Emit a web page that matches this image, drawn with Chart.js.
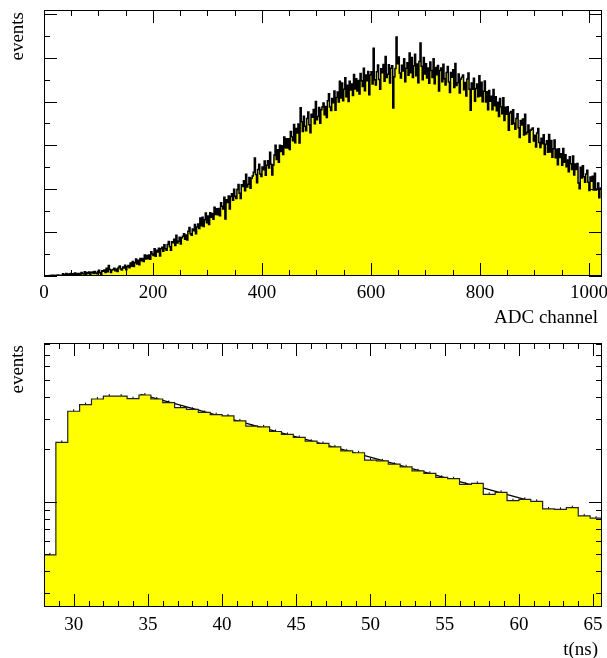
<!DOCTYPE html>
<html>
<head>
<meta charset="utf-8">
<script src="https://cdn.jsdelivr.net/npm/chart.js@4.4.1/dist/chart.umd.min.js"></script>
<style>
  html, body { margin: 0; padding: 0; background: #fff; }
  canvas { display: block; }
</style>
</head>
<body>
<canvas id="adc" width="607" height="330"></canvas>
<canvas id="tof" width="607" height="328"></canvas>
<script>
// ADC spectrum, 2 channels per bin, 0..1024
const adcBinWidth = 2;
const adcCounts = [
  0,0,1,0,0,2,0,3,1,4,2,1,5,2,4,3,
  3,10,2,7,12,4,9,2,11,7,10,5,14,8,12,7,
  12,4,16,12,9,19,6,16,12,18,5,16,18,11,21,14,
  10,21,26,15,8,24,22,28,16,35,19,48,30,16,28,30,
  36,24,32,21,39,46,32,28,41,37,49,29,42,48,38,60,
  45,66,44,61,78,55,72,52,80,70,80,66,96,78,94,79,
  96,77,111,101,94,125,91,118,110,127,92,125,132,114,143,125,
  118,144,158,134,118,157,152,169,140,187,151,159,178,147,176,182,
  194,168,188,165,205,223,194,187,216,208,236,194,225,239,218,266,
  230,269,227,258,289,244,275,236,290,270,287,260,315,282,309,281,
  310,276,336,320,307,361,262,350,337,367,307,365,377,347,398,366,
  355,397,420,380,355,418,410,437,391,467,408,421,452,402,448,459,
  476,541,465,428,488,513,468,456,500,487,528,462,508,529,495,568,
  513,463,509,555,600,534,579,522,600,571,597,557,638,588,629,587,
  629,580,663,639,620,695,611,676,656,697,610,772,707,663,733,687,
  666,722,752,694,657,742,728,764,698,800,717,732,773,701,763,775,
  794,739,777,727,804,836,775,759,814,795,848,760,819,844,798,893,
  816,885,804,856,909,822,875,800,893,853,881,828,924,858,905,849,
  897,835,929,896,869,953,850,922,895,938,831,922,937,881,1045,900,
  876,937,968,901,856,950,932,970,893,1007,910,925,969,885,953,964,
  770,914,952,1096,974,1005,931,908,967,940,996,891,953,978,921,1023,
  932,1002,910,964,1017,918,972,886,984,1069,962,900,1002,926,973,908,
  954,884,981,942,910,996,882,956,923,966,849,942,954,891,971,905,
  876,933,961,890,842,933,911,946,865,975,874,886,927,839,903,911,
  922,854,888,826,903,931,856,760,885,856,907,802,860,881,822,919,
  826,889,799,847,894,798,845,762,851,802,824,763,855,781,822,758,
  797,732,814,776,744,817,713,774,742,776,669,748,755,696,763,701,
  673,722,744,680,635,713,692,720,647,742,651,659,693,614,668,673,
  679,619,646,592,656,677,612,589,632,606,648,557,604,620,568,649,
  569,622,545,584,624,542,581,510,584,543,561,508,585,522,556,501,
  532,478,547,515,489,550,463,514,488,516,427,400,499,450,506,455,
  430,468,485,430,392,454,435,457,394,471,394,399,426,359,402,404
];
const adcTicks = [0, 200, 400, 600, 800, 1000];

// time spectrum, 0.8 ns bins from 28 ns
const tofStart = 28;
const tofBinWidth = 0.8;
const tofCounts = [498, 2194, 3311, 3615, 3893, 4046, 4046, 3910, 4103, 3893, 3715, 3477,
  3398, 3258, 3170, 3112, 2915, 2718, 2694, 2535, 2437, 2343, 2232, 2164, 2070, 1963,
  1914, 1738, 1722, 1648, 1591, 1509, 1459, 1384, 1359, 1262, 1279, 1106, 1136, 1017,
  1036, 1009, 912, 908, 928, 832, 807];
const tofTicks = [30, 35, 40, 45, 50, 55, 60, 65];

// exponential fit
const fitT = [34.5, 37, 40, 43, 46, 49, 52, 55, 58, 60.7];
const fitValues = [4142, 3621, 3083, 2624, 2236, 1905, 1621, 1380, 1175, 1017];

function range(a, b, step) {
  const out = [];
  for (let v = a; v <= b + 1e-9; v += step) out.push(Math.round(v * 1000) / 1000);
  return out;
}

const FONT = '19px "Liberation Serif", "DejaVu Serif", serif';

// ROOT-style frame: ticks inside on all four sides, labels and titles drawn by hand
const frameTicks = {
  id: 'frameTicks',
  afterDatasetsDraw(chart, args, o) {
    const ctx = chart.ctx;
    const a = chart.chartArea;
    const xs = chart.scales.x, ys = chart.scales.y;
    ctx.save();
    ctx.strokeStyle = '#000';
    ctx.lineWidth = 1;
    ctx.beginPath();
    const xTick = (v, len) => {
      const p = Math.round(xs.getPixelForValue(v)) + 0.5;
      ctx.moveTo(p, a.bottom); ctx.lineTo(p, a.bottom - len);
      ctx.moveTo(p, a.top); ctx.lineTo(p, a.top + len);
    };
    const yTick = (v, len) => {
      const p = Math.round(ys.getPixelForValue(v)) + 0.5;
      ctx.moveTo(a.left, p); ctx.lineTo(a.left + len, p);
      ctx.moveTo(a.right, p); ctx.lineTo(a.right - len, p);
    };
    o.xMinor.forEach(v => xTick(v, 6));
    o.xMajor.forEach(v => xTick(v, 13));
    o.yMinor.forEach(v => yTick(v, 6));
    o.yMajor.forEach(v => yTick(v, 13));
    ctx.stroke();
    ctx.strokeRect(a.left + 0.5, a.top + 0.5, a.right - a.left - 1, a.bottom - a.top - 1);

    ctx.fillStyle = '#000';
    ctx.font = FONT;
    ctx.textAlign = 'center';
    ctx.textBaseline = 'middle';
    o.xMajor.forEach(v => ctx.fillText(String(v), xs.getPixelForValue(v), a.bottom + o.labelGap));
    ctx.textAlign = 'right';
    ctx.fillText(o.xTitle, a.right - 4, a.bottom + o.titleGap);

    ctx.translate(18, a.top + 2);
    ctx.rotate(-Math.PI / 2);
    ctx.textAlign = 'right';
    ctx.fillText('events', 0, 0);
    ctx.restore();
  }
};

// each bin value holds from its lower edge to the next edge
const adcPoints = adcCounts.map((c, i) => ({ x: i * adcBinWidth, y: c }));
adcPoints.push({ x: adcCounts.length * adcBinWidth, y: adcCounts[adcCounts.length - 1] });

new Chart(document.getElementById('adc'), {
  type: 'line',
  data: {
    datasets: [{
      data: adcPoints,
      stepped: 'before',
      borderColor: '#000',
      borderWidth: 1.5,
      backgroundColor: '#ffff00',
      fill: 'origin',
      pointRadius: 0
    }]
  },
  options: {
    responsive: false,
    animation: false,
    layout: { padding: { left: 44, right: 5, top: 10, bottom: 54 } },
    scales: {
      x: { type: 'linear', min: 0, max: 1024, display: false },
      y: { type: 'linear', min: 0, max: 1220, display: false }
    },
    plugins: {
      legend: { display: false },
      tooltip: { enabled: false },
      frameTicks: {
        xMajor: adcTicks,
        xMinor: range(0, 1000, 50),
        yMajor: range(0, 1200, 200),
        yMinor: range(100, 1100, 200),
        xTitle: 'ADC channel',
        labelGap: 17,
        titleGap: 42
      }
    }
  },
  plugins: [frameTicks]
});

const tofPoints = tofCounts.map((c, i) => ({ x: tofStart + i * tofBinWidth, y: c }));
tofPoints.push({ x: tofStart + tofCounts.length * tofBinWidth, y: tofCounts[tofCounts.length - 1] });
const tofCenters = tofCounts.map((c, i) => ({ x: tofStart + (i + 0.5) * tofBinWidth, y: c }));
const fitPoints = fitT.map((t, i) => ({ x: t, y: fitValues[i] }));

new Chart(document.getElementById('tof'), {
  type: 'line',
  data: {
    datasets: [{
      data: tofPoints,
      stepped: 'before',
      borderColor: '#222',
      borderWidth: 1.2,
      backgroundColor: '#ffff00',
      fill: 'start',
      pointRadius: 0
    }, {
      data: tofCenters,
      showLine: false,
      pointStyle: 'line',
      rotation: 90,
      pointRadius: 2,
      borderColor: '#000',
      borderWidth: 1
    }, {
      data: fitPoints,
      borderColor: '#000',
      borderWidth: 1.3,
      fill: false,
      pointRadius: 0,
      tension: 0
    }]
  },
  options: {
    responsive: false,
    animation: false,
    layout: { padding: { left: 44, right: 5, top: 13, bottom: 51 } },
    scales: {
      x: { type: 'linear', min: 28, max: 65.6, display: false },
      y: { type: 'logarithmic', min: 250, max: 8150, display: false }
    },
    plugins: {
      legend: { display: false },
      tooltip: { enabled: false },
      frameTicks: {
        xMajor: tofTicks,
        xMinor: range(28, 65, 1),
        yMajor: [1000],
        yMinor: [300, 400, 500, 600, 700, 800, 900, 2000, 3000, 4000, 5000, 6000, 7000, 8000],
        xTitle: 't(ns)',
        labelGap: 18,
        titleGap: 43
      }
    }
  },
  plugins: [frameTicks]
});
</script>
</body>
</html>
